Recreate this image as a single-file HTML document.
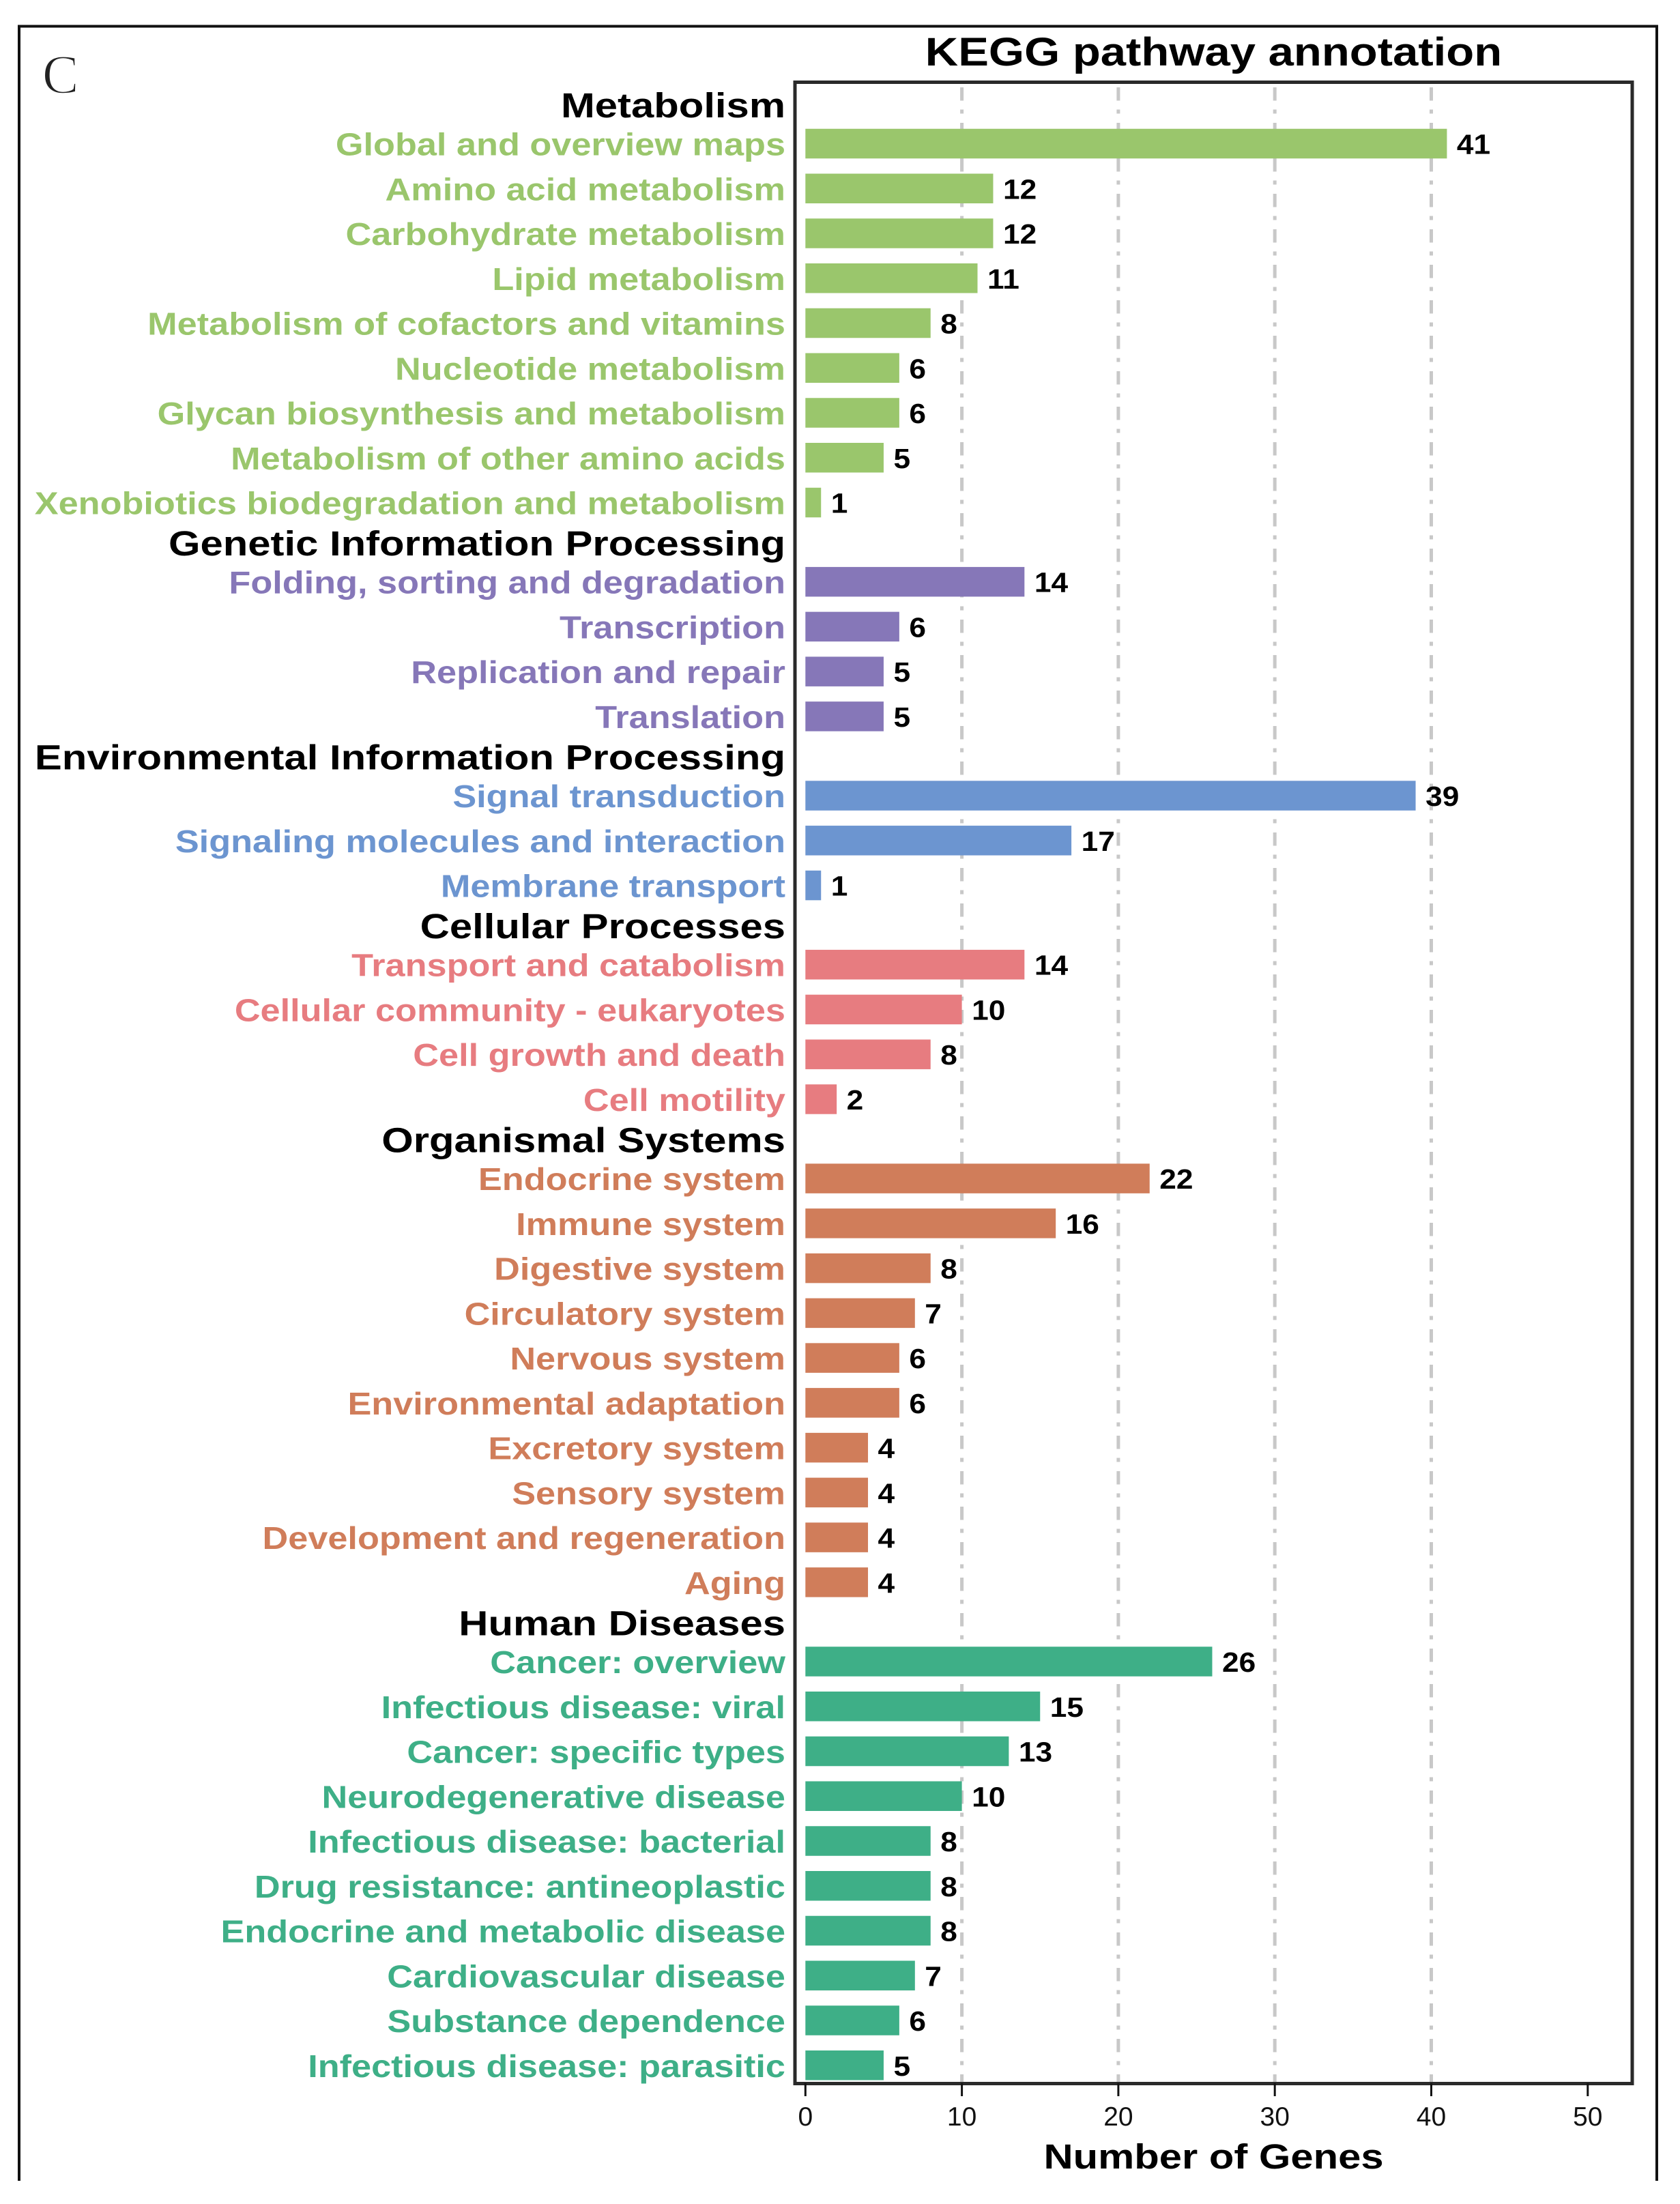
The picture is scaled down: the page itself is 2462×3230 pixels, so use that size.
<!DOCTYPE html>
<html lang="en">
<head>
<meta charset="utf-8">
<title>KEGG pathway annotation</title>
<style>
html,body{margin:0;padding:0;background:#fff;}
svg{display:block;font-family:"Liberation Sans",sans-serif;}
</style>
</head>
<body>
<svg id="chart" xmlns="http://www.w3.org/2000/svg" width="2462" height="3230" viewBox="0 0 2462 3230">
  <rect x="0" y="0" width="2462" height="3230" fill="#fff"/>
  <path d="M28 3196V38.5H2428V3196" fill="none" stroke="#111" stroke-width="4"/>
  <text x="62" y="136" font-family="'Liberation Serif',serif" font-size="80" fill="#222" stroke="#fff" stroke-width="1.5">C</text>
  <text transform="translate(1778.5 96) scale(1.156 1)" text-anchor="middle" font-size="58" font-weight="700" fill="#000">KEGG pathway annotation</text>
  <g id="grid"></g>
  <g id="bars"></g>
  <rect x="1165" y="120.5" width="1227" height="2933" fill="none" stroke="#2a2a2a" stroke-width="5"/>
  <g id="ticks"></g>
  <g id="labels"></g>
  <text transform="translate(1778.5 3178) scale(1.172 1)" text-anchor="middle" font-size="51" font-weight="700" fill="#000">Number of Genes</text>
</svg>
<script>
const groupNames = ["Metabolism", "Genetic Information Processing", "Environmental Information Processing", "Cellular Processes", "Organismal Systems", "Human Diseases"];
const metabolismCategories = ["Global and overview maps", "Amino acid metabolism", "Carbohydrate metabolism", "Lipid metabolism", "Metabolism of cofactors and vitamins", "Nucleotide metabolism", "Glycan biosynthesis and metabolism", "Metabolism of other amino acids", "Xenobiotics biodegradation and metabolism"];
const metabolismValues = [41, 12, 12, 11, 8, 6, 6, 5, 1];
const geneticCategories = ["Folding, sorting and degradation", "Transcription", "Replication and repair", "Translation"];
const geneticValues = [14, 6, 5, 5];
const environmentalCategories = ["Signal transduction", "Signaling molecules and interaction", "Membrane transport"];
const environmentalValues = [39, 17, 1];
const cellularCategories = ["Transport and catabolism", "Cellular community - eukaryotes", "Cell growth and death", "Cell motility"];
const cellularValues = [14, 10, 8, 2];
const organismalCategories = ["Endocrine system", "Immune system", "Digestive system", "Circulatory system", "Nervous system", "Environmental adaptation", "Excretory system", "Sensory system", "Development and regeneration", "Aging"];
const organismalValues = [22, 16, 8, 7, 6, 6, 4, 4, 4, 4];
const humanCategories = ["Cancer: overview", "Infectious disease: viral", "Cancer: specific types", "Neurodegenerative disease", "Infectious disease: bacterial", "Drug resistance: antineoplastic", "Endocrine and metabolic disease", "Cardiovascular disease", "Substance dependence", "Infectious disease: parasitic"];
const humanValues = [26, 15, 13, 10, 8, 8, 8, 7, 6, 5];
const xTicks = [0, 10, 20, 30, 40, 50];
const gridTicks = [10, 20, 30, 40];

const NS = "http://www.w3.org/2000/svg";
const groupCategories = [metabolismCategories, geneticCategories, environmentalCategories, cellularCategories, organismalCategories, humanCategories];
const groupValues = [metabolismValues, geneticValues, environmentalValues, cellularValues, organismalValues, humanValues];
const groupColors = ["#9AC66C", "#8677B8", "#6C95D0", "#E77C80", "#D07D5A", "#3EAF87"];

function xScale(v) { return 1180.3 + v * 22.93; }
function rowY(rowIndex, groupIndex) { return 210.5 + rowIndex * 65.75 + groupIndex * 50.4; }
function slug(s) { return s.toLowerCase().replace(/[^a-z0-9]+/g, "-").replace(/^-|-$/g, ""); }

function make(tag, parent, attrs) {
  const el = document.createElementNS(NS, tag);
  for (const k in attrs) el.setAttribute(k, attrs[k]);
  parent.appendChild(el);
  return el;
}

const gridG = document.getElementById("grid");
const barsG = document.getElementById("bars");
const ticksG = document.getElementById("ticks");
const labelsG = document.getElementById("labels");

gridTicks.forEach(function (t) {
  const line = make("line", gridG, { x1: xScale(t), x2: xScale(t), y1: 128, y2: 3051, stroke: "#c8c8c8", "stroke-width": 5, "stroke-dasharray": "19.5 13 6 13.5" });
  
  
});

xTicks.forEach(function (t) {
  const tick = make("line", ticksG, { x1: xScale(t), x2: xScale(t), y1: 3053, y2: 3072, stroke: "#111", "stroke-width": 3 });
  
  
  const lab = make("text", ticksG, { x: xScale(t), y: 3115, "text-anchor": "middle", "font-size": 39, fill: "#111" });
  lab.textContent = t;
  
  
});

let row = 0;
groupNames.forEach(function (name, g) {
  const header = make("text", labelsG, { transform: "translate(1151 " + (rowY(row, g) - 38.5) + ") scale(1.173 1)", "text-anchor": "end", "font-size": 51, "font-weight": 700, fill: "#000" });
  header.textContent = name;
  
  
  groupCategories[g].forEach(function (cat, i) {
    const cy = rowY(row, g);
    const val = groupValues[g][i];
    const bar = make("rect", barsG, { x: xScale(0), y: cy - 21.75, width: xScale(val) - xScale(0), height: 43.5, fill: groupColors[g] });
    
    
    const lab = make("text", labelsG, { transform: "translate(1151 " + (cy + 17) + ") scale(1.136 1)", "text-anchor": "end", "font-size": 46, "font-weight": 700, fill: groupColors[g] });
    lab.textContent = cat;
    
    
    const vt = make("text", labelsG, { transform: "translate(" + (xScale(val) + 14.5) + " " + (cy + 15) + ") scale(1.08 1)", "font-size": 41, "font-weight": 700, fill: "#000" });
    vt.textContent = val;
    
    
    row++;
  });
});
</script>
</body>
</html>
